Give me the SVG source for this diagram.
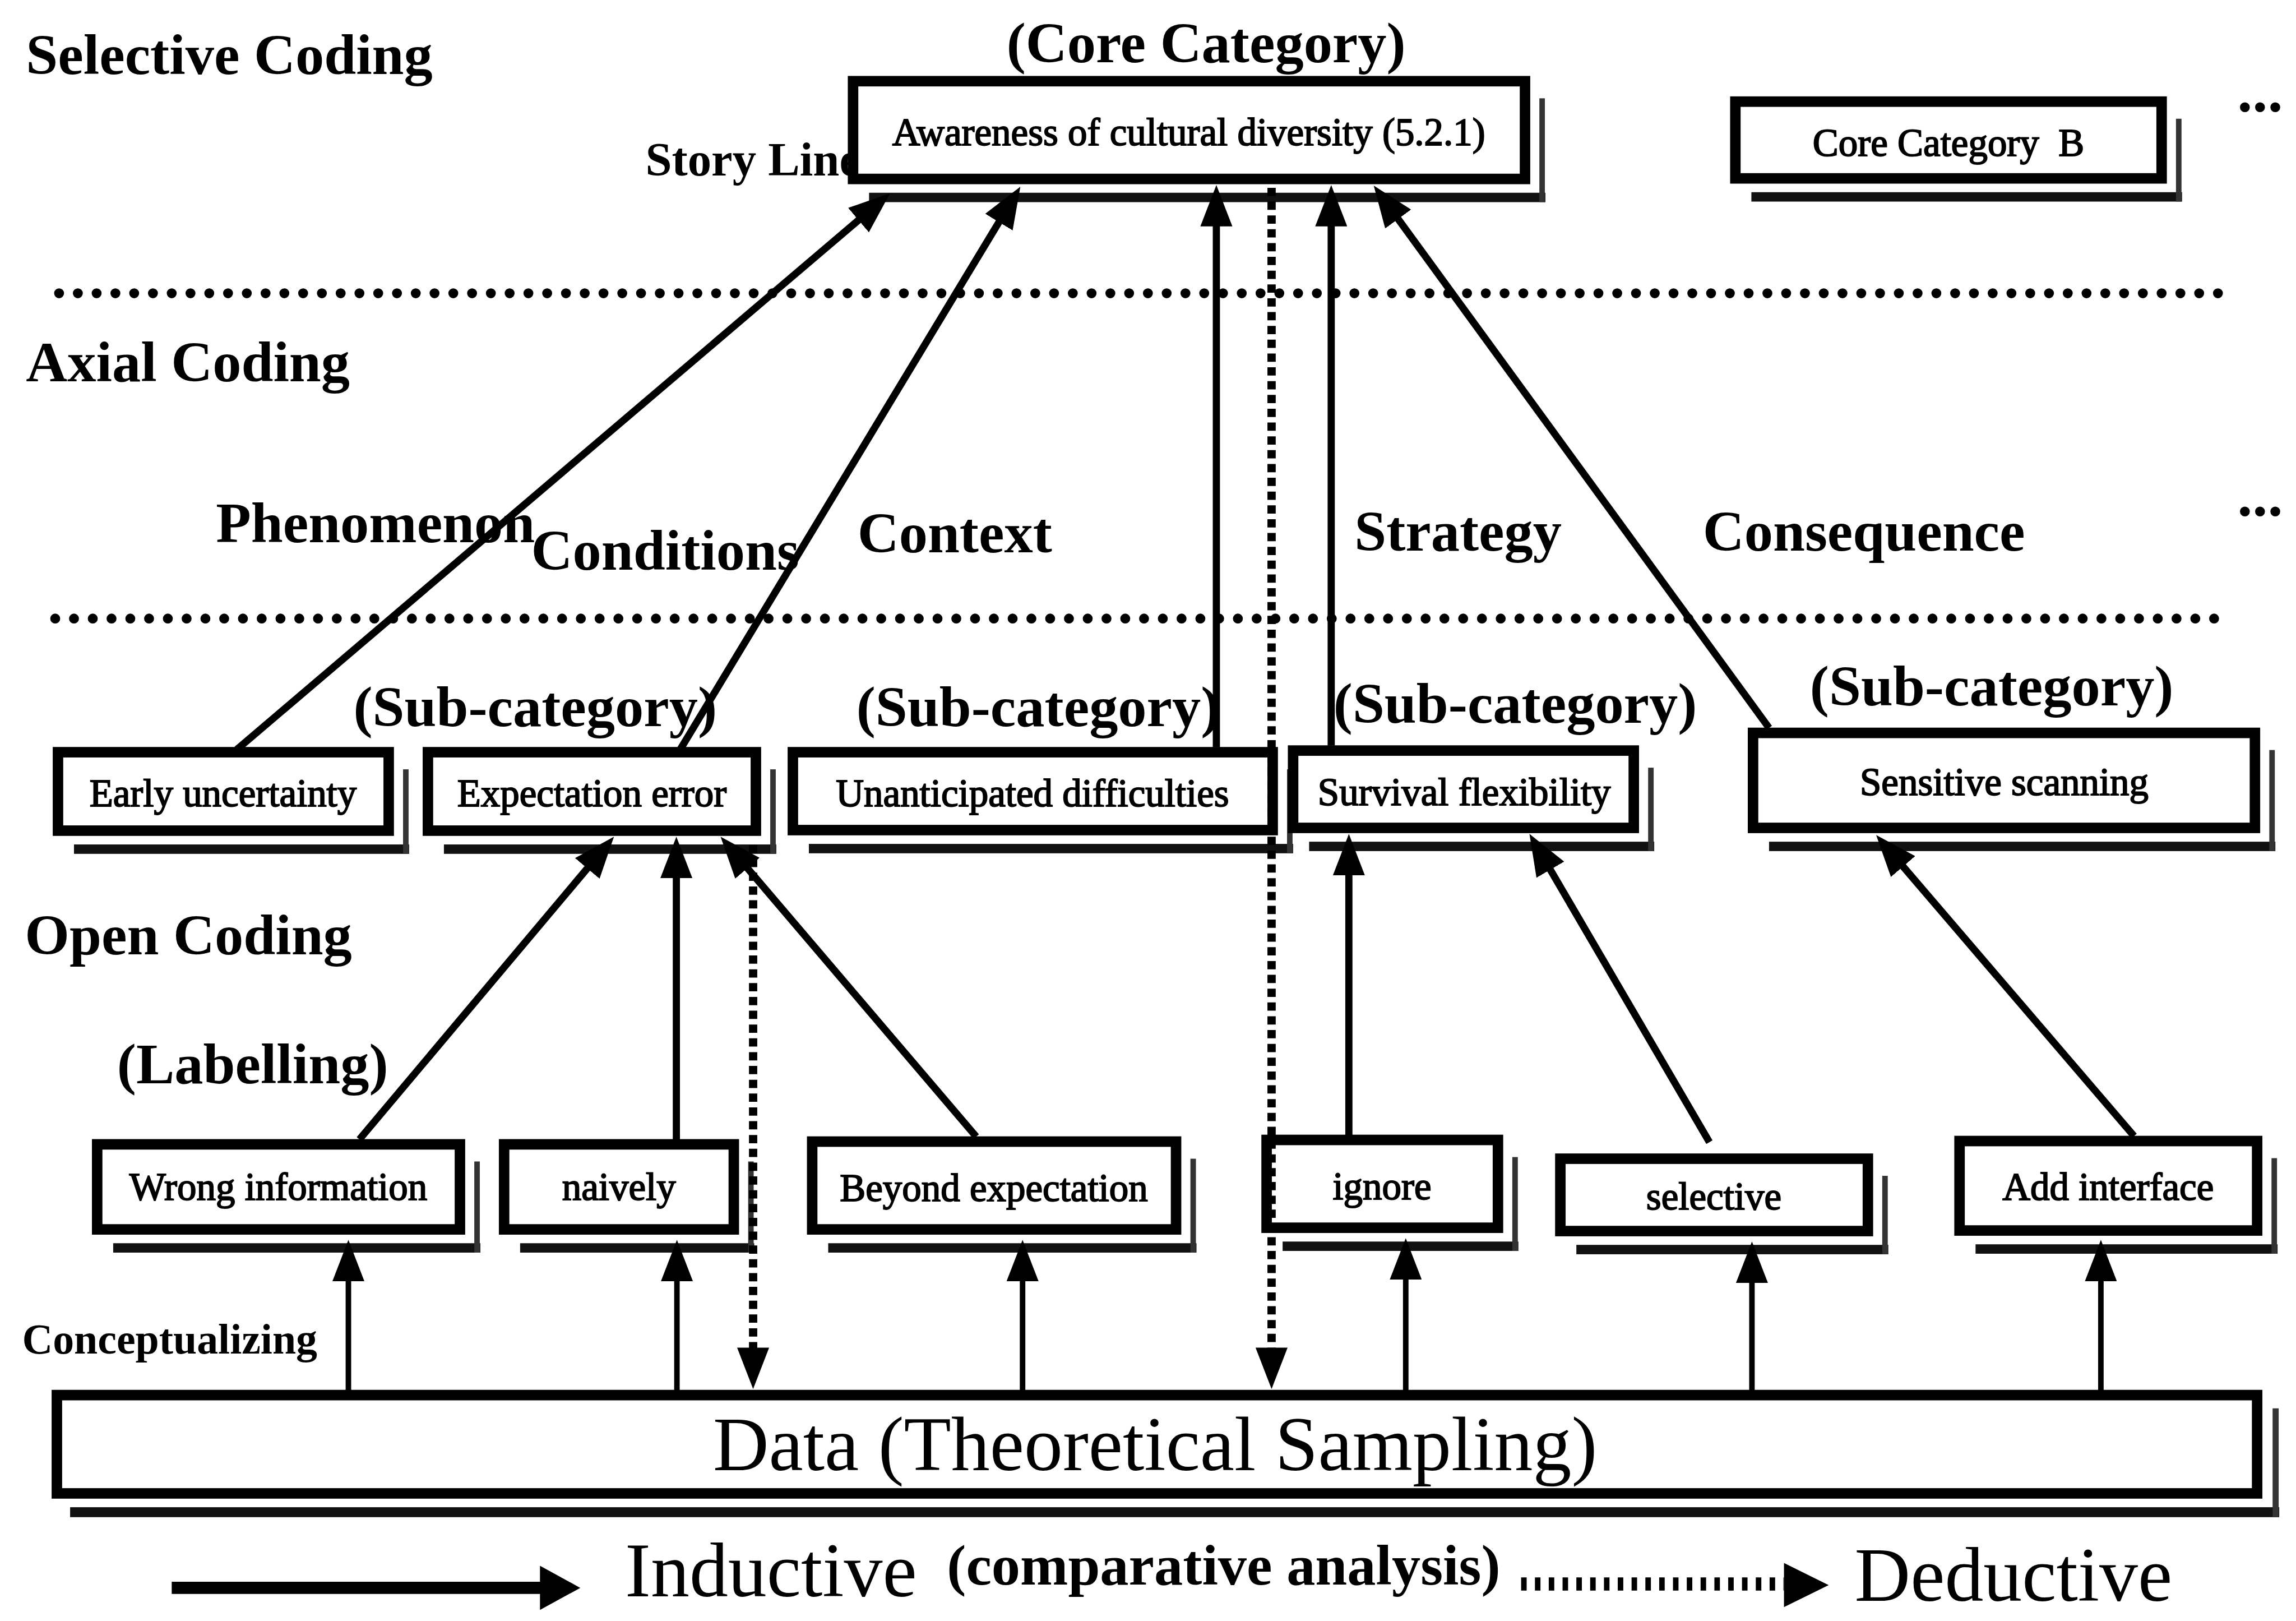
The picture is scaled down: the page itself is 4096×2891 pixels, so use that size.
<svg xmlns="http://www.w3.org/2000/svg" width="4096" height="2891" viewBox="0 0 4096 2891">
<style>
  .lbl{font-family:"Liberation Serif","Times New Roman",serif;font-weight:bold;font-size:104px;fill:#000}
  .sm{font-size:86px}
  .bt{font-family:"Liberation Serif","Times New Roman",serif;font-size:70px;fill:#000;text-anchor:middle;stroke:#000;stroke-width:2}
  .big{font-family:"Liberation Serif","Times New Roman",serif;font-size:140px;fill:#000}
  .box{fill:#fff;stroke:#000;stroke-width:19}
  .sh{fill:#111}
  .shr{fill:#333}
  .sep{stroke:#000;stroke-width:18;stroke-linecap:round;stroke-dasharray:0 34;fill:none}
  .arr{stroke:#000;stroke-width:13;fill:none;marker-end:url(#ah)}
  .arr.thin{stroke-width:10}
  .dash{stroke:#000;stroke-width:15;stroke-dasharray:15 10;fill:none;marker-end:url(#ah)}
</style>
<defs>
  <marker id="ah" viewBox="0 0 75 58" markerWidth="75" markerHeight="58" refX="35" refY="29" orient="auto" markerUnits="userSpaceOnUse">
    <path d="M0,0 L75,29 L0,58 Z" fill="#000"/>
  </marker>
</defs>
<rect x="0" y="0" width="4096" height="2891" fill="#fff"/>
<g transform="scale(0.985)">

  <!-- level titles and axial paradigm labels -->
  <g id="labels">
    <text class="lbl" x="47" y="134">Selective Coding</text>
    <text class="lbl" x="1823" y="113">(Core Category)</text>
    <text class="lbl sm" x="1169" y="318">Story Line</text>
    <text class="lbl" x="47" y="690">Axial Coding</text>
    <text class="lbl" x="391" y="982">Phenomenon</text>
    <text class="lbl" x="962" y="1031">Conditions</text>
    <text class="lbl" x="1553" y="1000">Context</text>
    <text class="lbl" x="2453" y="997">Strategy</text>
    <text class="lbl" x="3084" y="997">Consequence</text>
    <text class="lbl" x="4052" y="201" style="font-size:110px">...</text>
    <text class="lbl" x="4052" y="933" style="font-size:110px">...</text>
    <text class="lbl" x="640" y="1315">(Sub-category)</text>
    <text class="lbl" x="1551" y="1315">(Sub-category)</text>
    <text class="lbl" x="2415" y="1309">(Sub-category)</text>
    <text class="lbl" x="3278" y="1277">(Sub-category)</text>
    <text class="lbl" x="45" y="1728">Open Coding</text>
    <text class="lbl" x="212" y="1961">(Labelling)</text>
    <text class="lbl" x="40" y="2451" style="font-size:77px">Conceptualizing</text>
  </g>

  <!-- dotted level separators -->
  <g id="separators">
    <line class="sep" x1="107" y1="531" x2="4023" y2="531"/>
    <line class="sep" x1="100" y1="1120" x2="4023" y2="1120"/>
  </g>

  <!-- core categories -->
  <g id="core-awareness">
    <rect class="sh" x="1574" y="349" width="1225" height="17"/>
    <rect class="shr" x="2788" y="178" width="10" height="188"/>
    <rect class="box" x="1545" y="147" width="1217" height="177"/>
    <text class="bt" x="2153" y="263">Awareness of cultural diversity (5.2.1)</text>
  </g>
  <g id="core-b">
    <rect class="sh" x="3172" y="348" width="780" height="17"/>
    <rect class="shr" x="3941" y="215" width="10" height="150"/>
    <rect class="box" x="3143" y="184" width="772" height="139"/>
    <text class="bt" x="3529" y="282" xml:space="preserve">Core Category  B</text>
  </g>

  <!-- sub-categories -->
  <g id="early-uncertainty">
    <rect class="sh" x="134" y="1529" width="607" height="17"/>
    <rect class="shr" x="730" y="1393" width="10" height="153"/>
    <rect class="box" x="105" y="1362" width="599" height="142"/>
    <text class="bt" x="404" y="1460">Early uncertainty</text>
  </g>
  <g id="expectation-error">
    <rect class="sh" x="804" y="1529" width="602" height="17"/>
    <rect class="shr" x="1395" y="1393" width="10" height="153"/>
    <rect class="box" x="775" y="1362" width="594" height="142"/>
    <text class="bt" x="1072" y="1460">Expectation error</text>
  </g>
  <g id="unanticipated-difficulties">
    <rect class="sh" x="1465" y="1528" width="877" height="17"/>
    <rect class="shr" x="2331" y="1393" width="10" height="152"/>
    <rect class="box" x="1436" y="1362" width="869" height="141"/>
    <text class="bt" x="1870" y="1460">Unanticipated difficulties</text>
  </g>
  <g id="survival-flexibility">
    <rect class="sh" x="2371" y="1524" width="625" height="17"/>
    <rect class="shr" x="2985" y="1390" width="10" height="151"/>
    <rect class="box" x="2342" y="1359" width="617" height="140"/>
    <text class="bt" x="2652" y="1458">Survival flexibility</text>
  </g>
  <g id="sensitive-scanning">
    <rect class="sh" x="3204" y="1524" width="917" height="17"/>
    <rect class="shr" x="4110" y="1358" width="10" height="183"/>
    <rect class="box" x="3175" y="1327" width="909" height="172"/>
    <text class="bt" x="3630" y="1440">Sensitive scanning</text>
  </g>

  <!-- open-coding labels -->
  <g id="wrong-information">
    <rect class="sh" x="205" y="2251" width="665" height="17"/>
    <rect class="shr" x="859" y="2103" width="10" height="165"/>
    <rect class="box" x="176" y="2072" width="657" height="154"/>
    <text class="bt" x="504" y="2173">Wrong information</text>
  </g>
  <g id="naively">
    <rect class="sh" x="942" y="2251" width="424" height="17"/>
    <rect class="shr" x="1355" y="2103" width="10" height="165"/>
    <rect class="box" x="913" y="2072" width="416" height="154"/>
    <text class="bt" x="1121" y="2173">naively</text>
  </g>
  <g id="beyond-expectation">
    <rect class="sh" x="1500" y="2251" width="667" height="17"/>
    <rect class="shr" x="2156" y="2098" width="10" height="170"/>
    <rect class="box" x="1471" y="2067" width="659" height="159"/>
    <text class="bt" x="1800" y="2175">Beyond expectation</text>
  </g>
  <g id="ignore">
    <rect class="sh" x="2323" y="2248" width="427" height="17"/>
    <rect class="shr" x="2739" y="2095" width="10" height="170"/>
    <rect class="box" x="2294" y="2064" width="419" height="159"/>
    <text class="bt" x="2503" y="2172">ignore</text>
  </g>
  <g id="selective">
    <rect class="sh" x="2855" y="2254" width="565" height="17"/>
    <rect class="shr" x="3409" y="2129" width="10" height="142"/>
    <rect class="box" x="2826" y="2098" width="557" height="131"/>
    <text class="bt" x="3104" y="2190">selective</text>
  </g>
  <g id="add-interface">
    <rect class="sh" x="3578" y="2253" width="547" height="17"/>
    <rect class="shr" x="4114" y="2097" width="10" height="173"/>
    <rect class="box" x="3549" y="2066" width="539" height="162"/>
    <text class="bt" x="3818" y="2173">Add interface</text>
  </g>

  <!-- data source -->
  <g id="data">
    <rect class="sh" x="127" y="2729" width="4001" height="18"/>
    <rect class="shr" x="4116" y="2550" width="11" height="197"/>
    <rect class="box" x="103" y="2526" width="3985" height="178"/>
    <text class="big" x="2092" y="2662" text-anchor="middle">Data (Theoretical Sampling)</text>
  </g>

  <!-- connectors -->
  <g id="connectors">
    <line class="arr" x1="429" y1="1357" x2="1581.5" y2="375.9"/>
    <line class="arr" x1="1232" y1="1357" x2="1827.3" y2="372.2"/>
    <line class="arr" x1="2203" y1="1353" x2="2203" y2="375"/>
    <line class="arr" x1="2411" y1="1350" x2="2411" y2="375"/>
    <line class="arr" x1="3204" y1="1318" x2="2511.6" y2="368.3"/>

    <line class="arr" x1="651" y1="2063" x2="1086.2" y2="1545.6"/>
    <line class="arr" x1="1225" y1="2063" x2="1225" y2="1555"/>
    <line class="arr" x1="1768" y1="2058" x2="1331" y2="1545.4"/>
    <line class="arr" x1="2443" y1="2055" x2="2443" y2="1550"/>
    <line class="arr" x1="3096" y1="2068" x2="2790.2" y2="1544.5"/>
    <line class="arr" x1="3865" y1="2057" x2="3424" y2="1542.4"/>

    <line class="arr thin" x1="631" y1="2517" x2="631" y2="2285"/>
    <line class="arr thin" x1="1226" y1="2517" x2="1226" y2="2285"/>
    <line class="arr thin" x1="1852" y1="2517" x2="1852" y2="2285"/>
    <line class="arr thin" x1="2546" y1="2517" x2="2546" y2="2282"/>
    <line class="arr thin" x1="3173" y1="2517" x2="3173" y2="2288"/>
    <line class="arr thin" x1="3805" y1="2517" x2="3805" y2="2285"/>

    <line class="dash" x1="1364" y1="1530" x2="1364" y2="2475"/>
    <line class="dash" x1="2303" y1="340" x2="2303" y2="2475"/>
  </g>

  <!-- legend -->
  <g id="legend">
    <line x1="311" y1="2875" x2="980" y2="2875" stroke="#000" stroke-width="22"/>
    <polygon points="978,2835 1051,2875 978,2915" fill="#000"/>
    <text class="big" x="1132" y="2890">Inductive</text>
    <text class="lbl" x="1715" y="2869">(comparative analysis)</text>
    <line x1="2755" y1="2868" x2="3231" y2="2868" stroke="#000" stroke-width="24" stroke-dasharray="10 15"/>
    <polygon points="3231,2830 3312,2870 3231,2910" fill="#000"/>
    <text class="big" x="3359" y="2898">Deductive</text>
  </g>
</g>
</svg>
